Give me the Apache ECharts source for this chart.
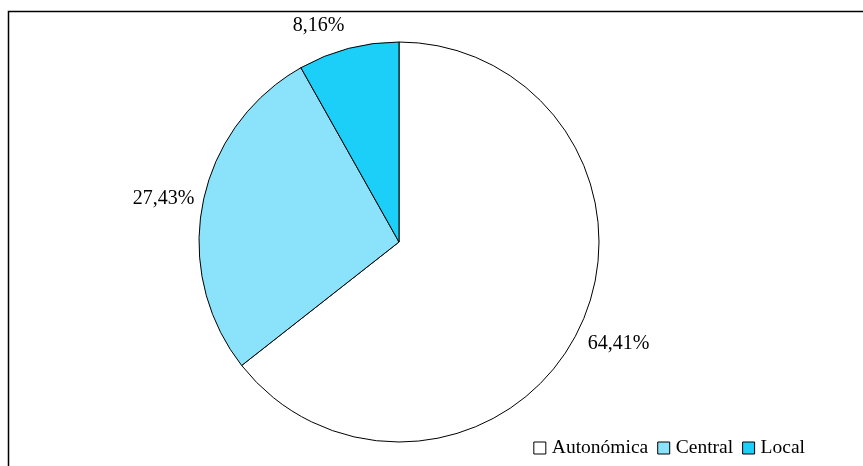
<!DOCTYPE html>
<html><head><meta charset="utf-8">
<script src="https://cdn.jsdelivr.net/npm/echarts@6/dist/echarts.min.js"></script>
<style>html,body{margin:0;padding:0;background:#fff}#c{width:863px;height:466px}</style>
</head><body><div id="c"></div>
<script>
const categories = ['Autonómica', 'Central', 'Local'];
const values = [64.41, 27.43, 8.16];
const labels = ['64,41%', '27,43%', '8,16%'];

const fills = ['#ffffff', '#8ae3fa', '#1ccff8'];
const labelOffsets = [[2, -4], [2, 4], [-19, 18]];

const font = '"Liberation Serif", "Times New Roman", serif';

const chart = echarts.init(document.getElementById('c'), null, { renderer: 'canvas' });
chart.setOption({
  animation: false,
  graphic: [{ type: 'rect', shape: { x: 8.5, y: 11.5, width: 900, height: 500 }, style: { fill: 'none', stroke: '#000', lineWidth: 1.5 }, silent: true, z: -1 }],
  legend: {
    data: categories, right: 53, bottom: 3, itemWidth: 12, itemHeight: 12, itemGap: 9,
    icon: 'rect',
    itemStyle: { borderColor: '#000', borderWidth: 1 },
    textStyle: { fontFamily: font, fontSize: 19.5, color: '#000', padding: [0, 0, 0, 1] }
  },
  series: [
    {
      type: 'pie', center: [399, 242], radius: [0, 200], startAngle: 90, clockwise: true,
      data: categories.map((n, i) => ({ name: n, value: values[i], itemStyle: { color: fills[i] } })),
      label: { show: false }, labelLine: { show: false },
      itemStyle: { borderColor: '#000', borderWidth: 1 }, emphasis: { disabled: true }
    },
    {
      type: 'pie', center: [399, 242], radius: [220, 258], startAngle: 90, clockwise: true, silent: true,
      data: categories.map((n, i) => ({ name: n, value: values[i], itemStyle: { color: 'rgba(0,0,0,0)' }, label: { offset: labelOffsets[i] } })),
      itemStyle: { borderWidth: 0 },
      label: { show: true, position: 'inside', formatter: p => labels[p.dataIndex], fontFamily: font, fontSize: 20, color: '#000' },
      labelLine: { show: false }, emphasis: { disabled: true }
    }
  ]
});
</script></body></html>
